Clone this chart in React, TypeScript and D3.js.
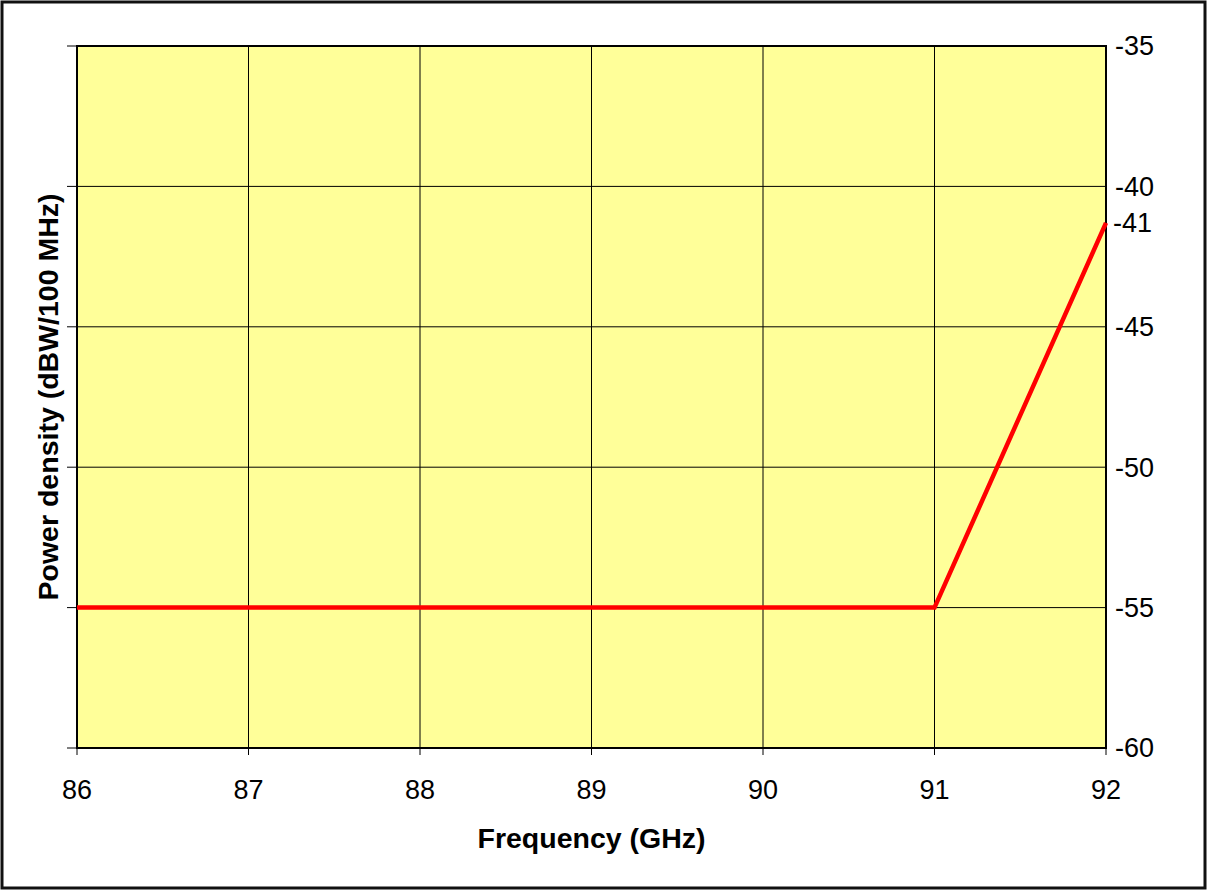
import React from "react";
import * as d3 from "d3";

const freqs = [86, 91, 92];
const power = [-55, -55, -41.3];
const xTicks = [86, 87, 88, 89, 90, 91, 92];
const yTicks = [-35, -40, -45, -50, -55, -60];
const endLabel = "-41";
const xTitle = "Frequency (GHz)";
const yTitle = "Power density (dBW/100 MHz)";

export default function App() {
  const W = 1207, H = 890;
  const L = 77, R = 1106, T = 46, B = 748;
  const x = d3.scaleLinear().domain([86, 92]).range([L, R]);
  const y = d3.scaleLinear().domain([-60, -35]).range([B, T]);
  const pts: [number, number][] = freqs.map((f, i) => [f, power[i]]);
  const line = d3.line<[number, number]>().x(d => x(d[0])).y(d => y(d[1]));
  const font = "'Liberation Sans', Arial, sans-serif";
  const last = pts[pts.length - 1];
  return (
    <svg width={W} height={H} style={{ position: "absolute", left: 0, top: 0 }}>
      <rect x={0} y={0} width={W} height={H} fill="#fff" />
      <rect x={2} y={2} width={W - 4} height={H - 4} fill="#fff" stroke="#111" strokeWidth={3} />
      <rect x={L} y={T} width={R - L} height={B - T} fill="#FFFF99" />
      {xTicks.map(t => (
        <g key={"x" + t}>
          <line x1={x(t)} x2={x(t)} y1={T} y2={B} stroke="#000" strokeWidth={1} />
          <line x1={x(t)} x2={x(t)} y1={B} y2={B + 7} stroke="#000" strokeWidth={1} />
          <text x={x(t)} y={B + 51} textAnchor="middle" fontFamily={font} fontSize={27} fill="#000">{t}</text>
        </g>
      ))}
      {yTicks.map(t => (
        <g key={"y" + t}>
          <line x1={L} x2={R} y1={y(t)} y2={y(t)} stroke="#000" strokeWidth={1} />
          <line x1={L - 10} x2={L} y1={y(t)} y2={y(t)} stroke="#000" strokeWidth={1} />
          <text x={R + 9} y={y(t)} dy="0.35em" fontFamily={font} fontSize={27} fill="#000">{"-" + Math.abs(t)}</text>
        </g>
      ))}
      <text x={R + 7} y={y(last[1])} dy="0.35em" fontFamily={font} fontSize={27} fill="#000">{endLabel}</text>
      <rect x={L} y={T} width={R - L} height={B - T} fill="none" stroke="#000" strokeWidth={2} />
      <path d={line(pts) || ""} fill="none" stroke="#FF0000" strokeWidth={4.5} />
      <text x={(L + R) / 2} y={848} textAnchor="middle" fontFamily={font} fontSize={28.5} fontWeight="bold" fill="#000">{xTitle}</text>
      <text transform={`translate(58, ${(T + B) / 2}) rotate(-90)`} textAnchor="middle" fontFamily={font} fontSize={28.5} fontWeight="bold" fill="#000">{yTitle}</text>
    </svg>
  );
}
